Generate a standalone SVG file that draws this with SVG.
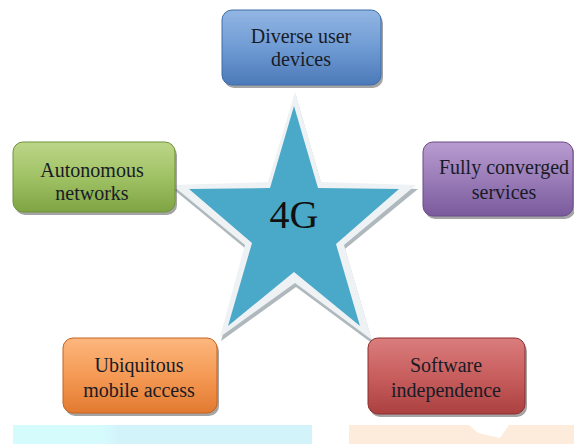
<svg xmlns="http://www.w3.org/2000/svg" width="574" height="444" viewBox="0 0 574 444">
<defs>
<style>
.lbl{font-size:20px;fill:#181b26;text-anchor:middle}
.big{font-size:40px;fill:#111;text-anchor:middle}
.shadow{fill:#5a5a5a;opacity:0.55}
</style>
<linearGradient id="gBlue" x1="0" y1="0" x2="0" y2="1"><stop offset="0" stop-color="#93b6e3"/><stop offset="0.5" stop-color="#6f9bd4"/><stop offset="1" stop-color="#4c79b8"/></linearGradient>
<linearGradient id="gGreen" x1="0" y1="0" x2="0" y2="1"><stop offset="0" stop-color="#bcd688"/><stop offset="0.5" stop-color="#a0c265"/><stop offset="1" stop-color="#7fa443"/></linearGradient>
<linearGradient id="gPurple" x1="0" y1="0" x2="0" y2="1"><stop offset="0" stop-color="#b89cd0"/><stop offset="0.5" stop-color="#9a7cb8"/><stop offset="1" stop-color="#7a5a9c"/></linearGradient>
<linearGradient id="gOrange" x1="0" y1="0" x2="0" y2="1"><stop offset="0" stop-color="#fcb77e"/><stop offset="0.5" stop-color="#f59a55"/><stop offset="1" stop-color="#e27a30"/></linearGradient>
<linearGradient id="gRed" x1="0" y1="0" x2="0" y2="1"><stop offset="0" stop-color="#da7d7d"/><stop offset="0.5" stop-color="#c85e5e"/><stop offset="1" stop-color="#aa4040"/></linearGradient>
<linearGradient id="gCyan" x1="0" y1="0" x2="1" y2="0"><stop offset="0" stop-color="#d5fcfd"/><stop offset="0.3" stop-color="#d5fbfd"/><stop offset="0.35" stop-color="#d3f3fb"/><stop offset="1" stop-color="#d3f3fb"/></linearGradient>
</defs>
<rect width="574" height="444" fill="#ffffff"/>
<g id="bands">
<rect x="13" y="425" width="299" height="19" fill="url(#gCyan)"/>
<path d="M349 425 H469 L478 433 L500 438 L509 425 H574 V444 H349 Z" fill="#fdecdc"/>
</g>
<g id="connectors">
<polygon points="296,96 322,186 418,189 345,249 373,344 296,287 221,341 246,249 173,189 269,186" fill="#9aa6ad" opacity="0.8"/>
<polygon points="295,92 321,182 416,185 344,245 372,340 295,283 220,337 245,245 172,185 268,182" fill="#eef2f4"/>
</g>
<g font-family="Liberation Serif, Times New Roman, DejaVu Serif, serif">
<g id="center">
<polygon points="294,106 318,188 399,189 336,244 360,326 294,272 228,326 252,243 189,189 270,188" fill="#4aa8c8"/>
<text class="big" x="294" y="228">4G</text>
</g>
<g id="n-diverse">
<rect class="shadow" x="224" y="13" width="159" height="75" rx="10"/>
<rect x="222" y="10" width="159" height="75" rx="10" fill="url(#gBlue)" stroke="#3f6ca8" stroke-width="1"/>
<text class="lbl" x="301" y="43">Diverse user</text>
<text class="lbl" x="301" y="66">devices</text>
</g>
<g id="n-autonomous">
<rect class="shadow" x="15" y="145" width="162" height="70" rx="10"/>
<rect x="13" y="142" width="162" height="70" rx="10" fill="url(#gGreen)" stroke="#6f9338" stroke-width="1"/>
<text class="lbl" x="92" y="177">Autonomous</text>
<text class="lbl" x="92" y="200">networks</text>
</g>
<g id="n-fully">
<rect class="shadow" x="425" y="145" width="150" height="74" rx="10"/>
<rect x="423" y="142" width="150" height="74" rx="10" fill="url(#gPurple)" stroke="#6a4a88" stroke-width="1"/>
<text class="lbl" x="504" y="174">Fully converged</text>
<text class="lbl" x="504" y="199">services</text>
</g>
<g id="n-ubiquitous">
<rect class="shadow" x="65" y="341" width="154" height="75" rx="10"/>
<rect x="63" y="338" width="154" height="75" rx="10" fill="url(#gOrange)" stroke="#c8621e" stroke-width="1"/>
<text class="lbl" x="139" y="372">Ubiquitous</text>
<text class="lbl" x="139" y="397">mobile access</text>
</g>
<g id="n-software">
<rect class="shadow" x="370" y="341" width="157" height="76" rx="10"/>
<rect x="368" y="338" width="157" height="76" rx="10" fill="url(#gRed)" stroke="#8e2e2e" stroke-width="1"/>
<text class="lbl" x="446" y="372">Software</text>
<text class="lbl" x="446" y="397">independence</text>
</g>
</g>
</svg>
